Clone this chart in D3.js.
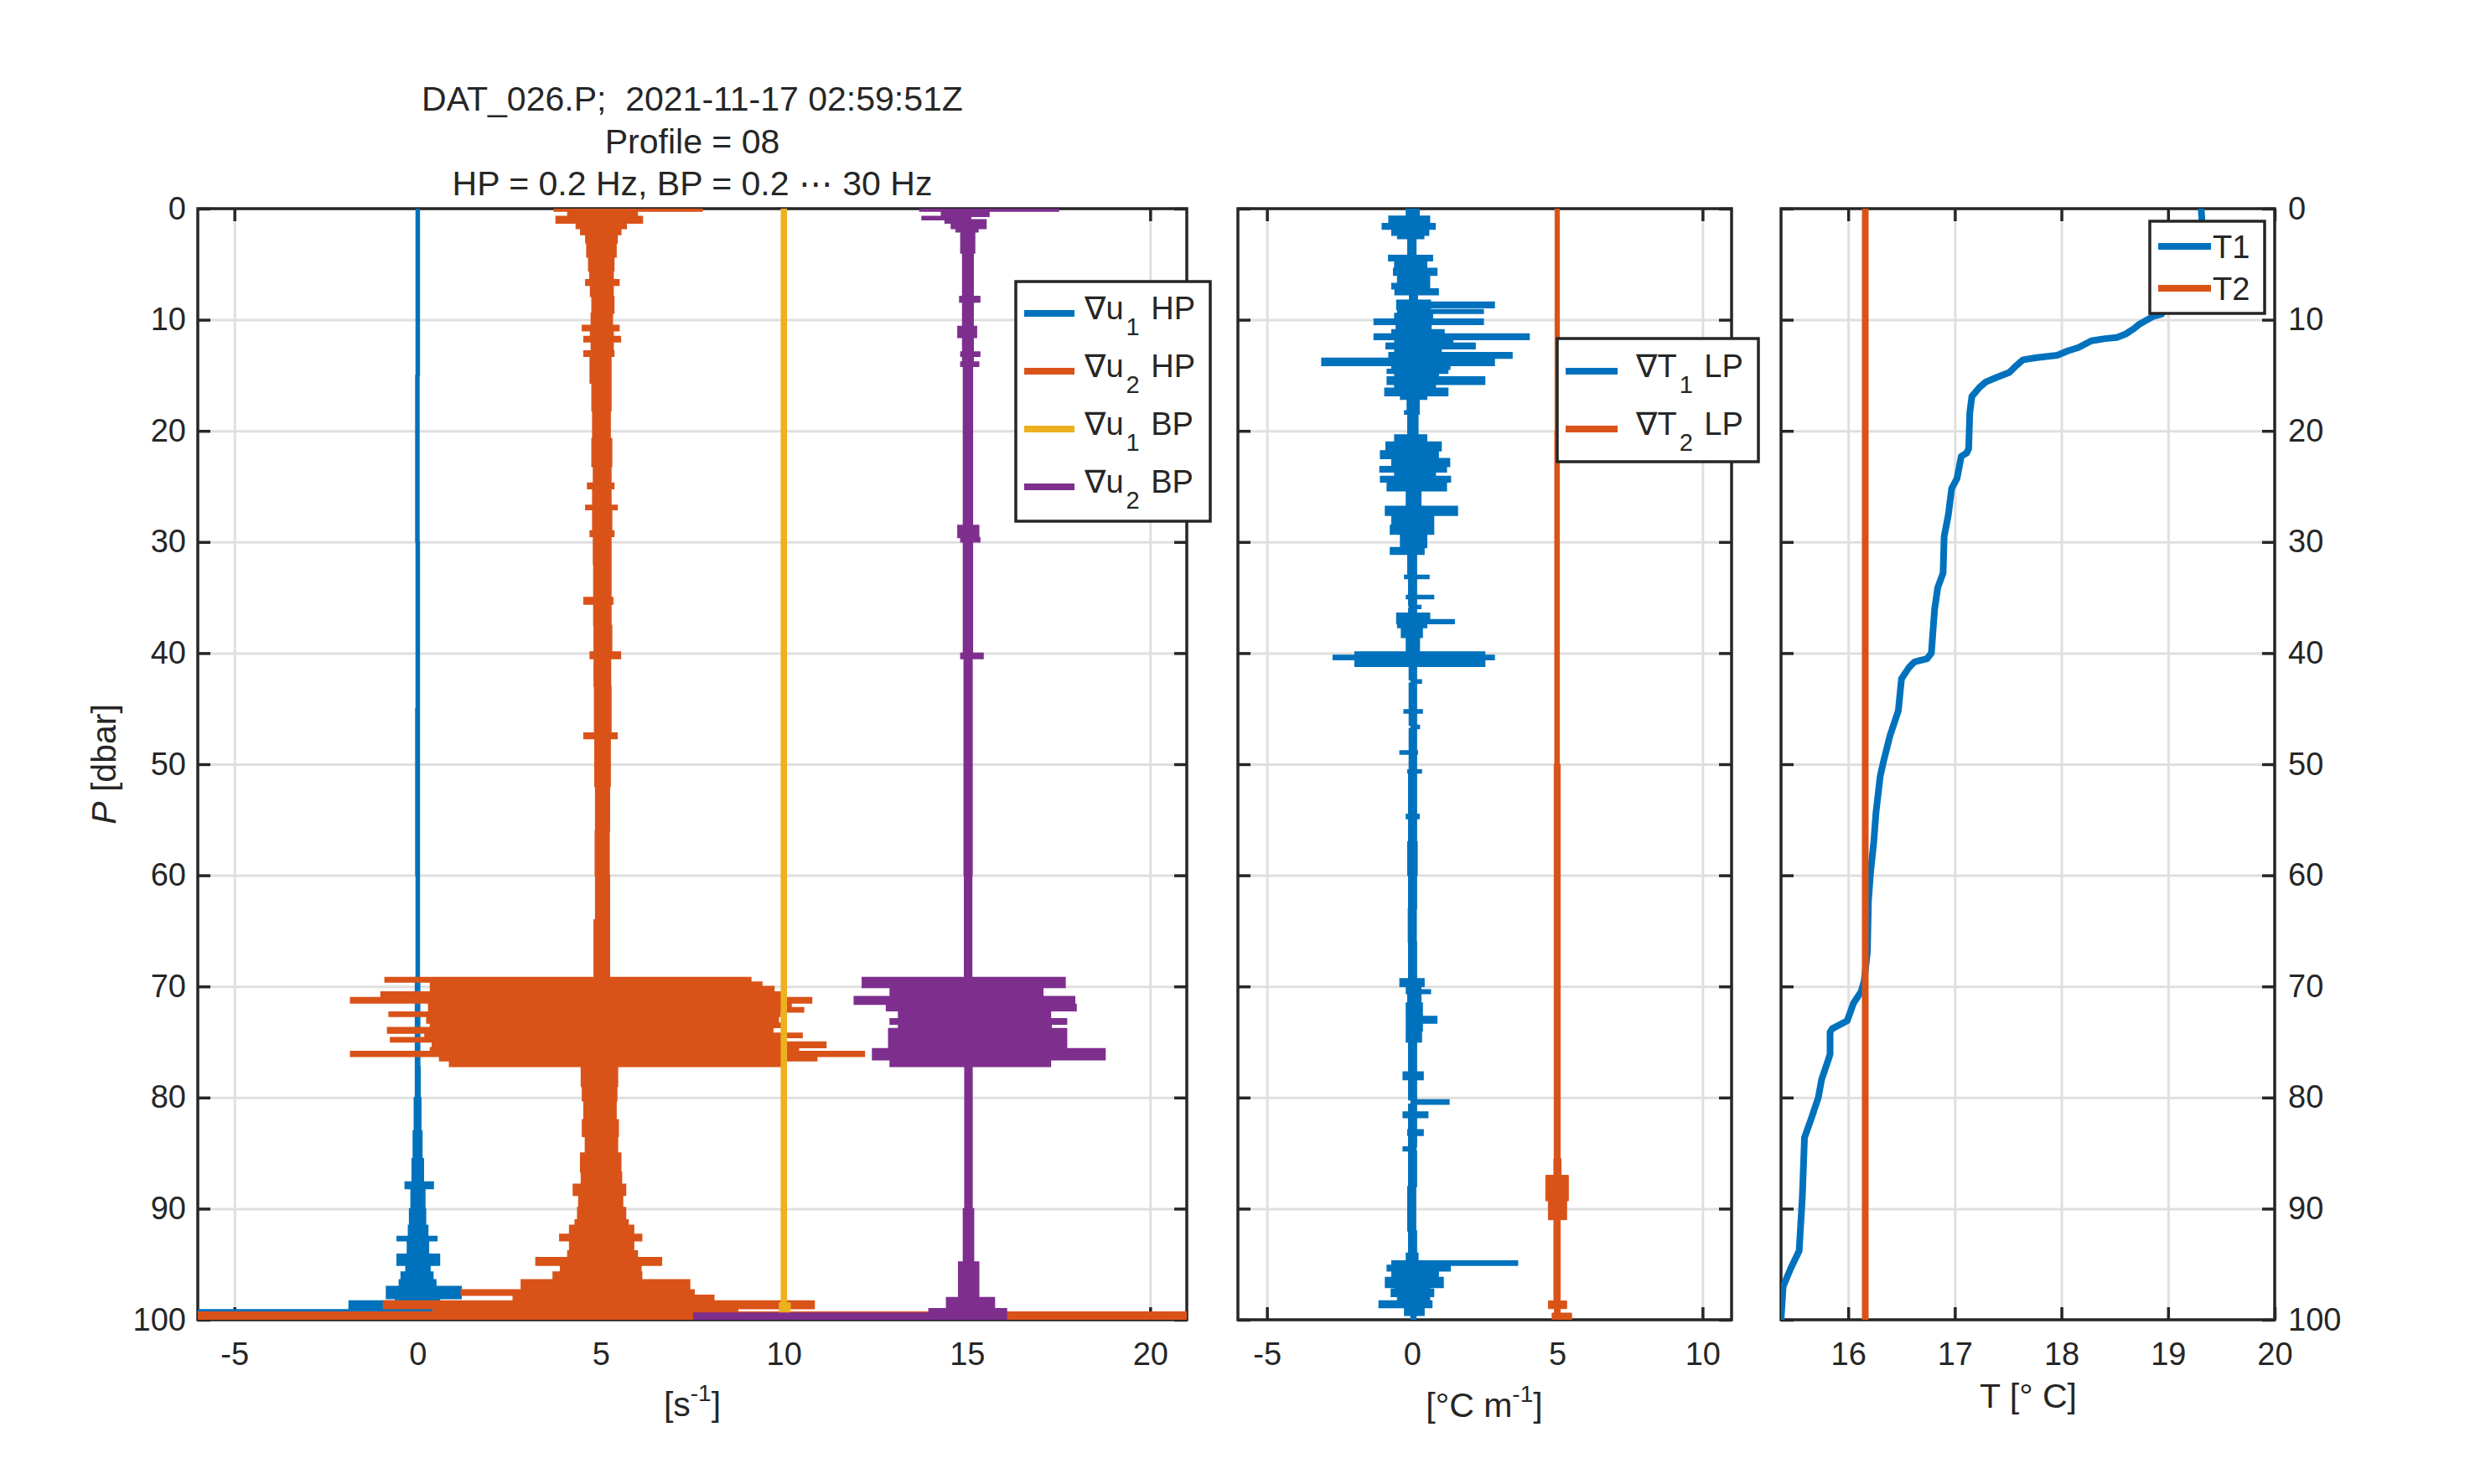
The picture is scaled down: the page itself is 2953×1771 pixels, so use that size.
<!DOCTYPE html>
<html lang="en">
<head>
<meta charset="UTF-8">
<title>DAT_026.P profile 08</title>
<script src="https://d3js.org/d3.v7.min.js"></script>
<style>
  body { margin: 0; background: #fff; }
  svg { display: block; background: #fff; }
  svg text { font-family: 'Liberation Sans', Arial, Helvetica, 'DejaVu Sans', sans-serif; fill: #262626; }
</style>
</head>
<body>
<svg id="fig" width="2953" height="1771"></svg>
<script>
// Values.
// Noisy profiles are kept as rows [P (dbar), min, max]; each row holds down to the next row.

// left panel: shear probes [s^-1] (offset by 0, 5, 10, 15)
var du1HP = [
  [0, -0.04, 0.05], [15, -0.05, 0.04], [30, -0.04, 0.05], [45, -0.05, 0.05], [60, -0.04, 0.05],
  [69.2, -0.06, 0.06], [77.2, -0.06, 0.07], [80, -0.09, 0.09], [83, -0.12, 0.12], [85.5, -0.15, 0.16],
  [87.6, -0.34, 0.43], [88.2, -0.18, 0.2], [90, -0.22, 0.22], [91.5, -0.25, 0.28], [92.5, -0.56, 0.53],
  [92.9, -0.28, 0.3], [94.1, -0.56, 0.6], [95.1, -0.32, 0.34], [95.7, -0.45, 0.42], [96.4, -0.5, 0.5],
  [97.0, -0.85, 1.19], [98.1, -0.6, 0.6], [98.3, -1.87, 0.53], [99.1, -6, 0.42], [99.3, -1.5, 0.3],
  [100, -1.5, 0.3]
];
var du2HP = [
  [0, 3.73, 7.77], [0.22, 4.1, 6.0], [0.7, 3.78, 6.14], [1.3, 4.33, 5.7], [1.8, 4.45, 5.55],
  [2.34, 4.59, 5.45], [3.1, 4.62, 5.42], [4.35, 4.67, 5.36], [5.6, 4.7, 5.34], [6.4, 4.59, 5.5],
  [6.9, 4.72, 5.34], [7.9, 4.76, 5.36], [9.4, 4.74, 5.32], [10.5, 4.5, 5.5], [11.0, 4.72, 5.34],
  [11.5, 4.54, 5.54], [12.0, 4.74, 5.34], [12.8, 4.54, 5.36], [13.3, 4.71, 5.28], [15.7, 4.76, 5.28],
  [18.2, 4.78, 5.26], [20.7, 4.76, 5.3], [23.2, 4.8, 5.28], [24.7, 4.64, 5.36], [25.2, 4.78, 5.28],
  [26.7, 4.59, 5.45], [27.1, 4.78, 5.3], [29.0, 4.71, 5.36], [29.5, 4.8, 5.28], [32, 4.81, 5.28],
  [35.0, 4.54, 5.33], [35.6, 4.81, 5.28], [37.5, 4.82, 5.3], [39.9, 4.71, 5.54], [40.5, 4.82, 5.27],
  [43, 4.83, 5.28], [47.2, 4.54, 5.45], [47.7, 4.84, 5.26], [52, 4.86, 5.24], [56, 4.85, 5.23],
  [60, 4.86, 5.24], [64, 4.82, 5.24],
  [69.2, -0.89, 9.1], [69.6, 0.35, 9.4], [70.0, 0.35, 9.73], [70.5, -1.0, 9.95], [71.0, -1.83, 10.76],
  [71.5, 0.3, 10.2], [71.9, 0.3, 10.54], [72.3, -0.78, 9.9], [72.7, 0.25, 9.85], [73.3, 0.35, 9.95],
  [73.7, -0.82, 9.7], [74.2, 0.2, 10.5], [74.6, -0.74, 10.0], [75.0, 0.4, 11.15], [75.5, 0.35, 10.4],
  [75.85, -1.83, 12.2], [76.3, 0.6, 10.9], [76.7, 0.87, 9.95],
  [77.2, 4.47, 5.46], [79, 4.5, 5.44], [80.3, 4.54, 5.42], [82, 4.5, 5.48], [83.5, 4.58, 5.46],
  [85, 4.45, 5.55], [86.7, 4.47, 5.57], [87.8, 4.25, 5.68], [88.8, 4.4, 5.6], [89.9, 4.37, 5.68],
  [91.0, 4.3, 5.75], [91.5, 4.15, 5.9], [92.3, 3.88, 6.12], [92.9, 4.15, 5.9], [93.8, 4.1, 6.0],
  [94.4, 3.23, 6.66], [95.1, 3.9, 6.1], [95.7, 3.7, 6.12], [96.4, 2.83, 7.43], [97.3, 1.19, 7.55],
  [97.8, 2.61, 8.09], [98.3, -0.93, 10.83], [99.0, 0.42, 8.74], [99.3, -6, 21], [100, -6, 21]
];
var du1BP = [
  [0, 9.93, 10.07], [98.5, 9.88, 10.17], [99.4, 9.93, 10.07], [100, 9.93, 10.07]
];
var du2BP = [
  [0, 13.71, 17.5], [0.22, 14.3, 15.6], [0.7, 13.77, 15.1], [1.0, 14.4, 15.52], [1.3, 14.57, 15.52],
  [1.8, 14.7, 15.3], [2.1, 14.83, 15.21], [4.0, 14.88, 15.17], [7.9, 14.8, 15.35], [8.4, 14.88, 15.17],
  [10.6, 14.75, 15.26], [11.6, 14.88, 15.17], [12.9, 14.83, 15.35], [13.3, 14.88, 15.17],
  [13.8, 14.83, 15.32], [14.2, 14.9, 15.15], [28.5, 14.75, 15.32], [29.6, 14.83, 15.35],
  [30.0, 14.9, 15.15], [40.0, 14.83, 15.44], [40.5, 14.92, 15.14], [60, 14.93, 15.13],
  [69.2, 12.14, 17.68], [70.1, 12.9, 17.07], [70.9, 11.92, 17.94], [71.6, 12.8, 17.98],
  [72.2, 13.13, 17.28], [72.9, 12.9, 17.72], [73.4, 13.13, 17.3], [73.8, 12.86, 17.72],
  [75.6, 12.42, 18.77], [76.6, 12.9, 17.28], [77.2, 14.94, 15.14], [90, 14.9, 15.18],
  [94.8, 14.77, 15.32], [98.0, 14.44, 15.75], [99.0, 13.96, 16.08], [99.4, 7.54, 16.08],
  [100, 7.54, 16.08]
];

// middle panel: thermistor gradients [degC m^-1] (offset by 0 and 5)
var dT1LP = [
  [0, -0.2, 0.24], [0.67, -0.8, 0.6], [1.34, -1.03, 0.79], [1.85, -0.7, 0.57], [2.4, -0.5, 0.4],
  [2.69, -0.15, 0.13], [4.2, -0.81, 0.7], [4.7, -0.6, 0.5], [5.38, -0.64, 0.85], [6.0, -0.5, 0.6],
  [6.73, -0.7, 0.6], [7.23, -0.59, 0.9], [7.74, -0.09, 0.18], [8.24, -0.53, 0.63], [8.41, -0.53, 2.83],
  [8.92, -0.53, 0.63], [9.08, -0.5, 2.45], [9.42, -0.6, 0.7], [9.93, -1.31, 2.45], [10.43, -0.55, 0.65],
  [10.9, -0.7, 1.1], [11.27, -1.31, 4.03], [11.78, -0.6, 1.4], [12.11, -0.9, 2.17], [12.62, -0.6, 1.0],
  [12.96, -0.8, 3.44], [13.46, -3.11, 2.83], [14.13, -0.7, 1.3], [14.47, -0.86, 1.23], [14.81, -0.6, 0.9],
  [15.14, -0.86, 2.5], [15.82, -0.6, 0.8], [16.16, -0.94, 1.23], [16.83, -0.4, 0.5], [17.16, -0.17, 0.24],
  [18.2, -0.26, 0.24], [18.5, -0.15, 0.2], [20.36, -0.6, 0.5], [21.0, -0.9, 1.0], [21.8, -1.09, 0.9],
  [22.5, -0.7, 1.29], [23.2, -1.11, 1.18], [23.7, -0.6, 0.8], [24.1, -1.09, 1.32], [24.6, -0.86, 1.18],
  [25.4, -0.2, 0.3], [26.8, -0.92, 1.56], [27.6, -0.7, 0.74], [28.5, -0.75, 0.74], [29.3, -0.4, 0.5],
  [30.5, -0.75, 0.41], [31.1, -0.15, 0.15], [33.0, -0.26, 0.58], [33.3, -0.12, 0.15], [34.8, -0.2, 0.74],
  [35.1, -0.12, 0.15], [35.7, -0.1, 0.3], [36.0, -0.12, 0.15], [36.4, -0.53, 0.6], [37.0, -0.53, 1.45],
  [37.35, -0.5, 0.5], [37.7, -0.37, 0.35], [38.6, -0.2, 0.25], [39.9, -1.97, 2.5], [40.2, -2.72, 2.83],
  [40.6, -1.97, 2.5], [41.2, -0.1, 0.15], [42.4, -0.04, 0.32], [42.7, -0.1, 0.15], [45.1, -0.28, 0.35],
  [45.4, -0.1, 0.15], [46.5, -0.04, 0.25], [46.8, -0.1, 0.15], [48.8, -0.42, 0.18], [49.1, -0.1, 0.15],
  [50.5, -0.15, 0.32], [50.8, -0.12, 0.15], [54.5, -0.2, 0.24], [54.9, -0.12, 0.15], [57, -0.15, 0.17],
  [60, -0.12, 0.15], [63, -0.13, 0.14], [66, -0.12, 0.15], [69.3, -0.42, 0.41], [70.0, -0.2, 0.3],
  [70.3, -0.2, 0.63], [70.65, -0.15, 0.3], [71.5, -0.2, 0.35], [72.7, -0.2, 0.85], [73.3, -0.2, 0.35],
  [74, -0.2, 0.32], [75, -0.12, 0.15], [77.7, -0.31, 0.38], [78.4, -0.12, 0.15], [80.2, -0.04, 1.27],
  [80.6, -0.12, 0.15], [81.3, -0.31, 0.54], [81.8, -0.12, 0.15], [82.9, -0.15, 0.38], [83.4, -0.12, 0.15],
  [84.45, -0.31, 0.13], [84.8, -0.12, 0.15], [88, -0.15, 0.12], [92, -0.12, 0.15], [94.0, -0.2, 0.2],
  [94.7, -0.7, 3.63], [95.1, -0.86, 1.31], [95.6, -0.7, 0.9], [96.2, -0.92, 1.07], [97.1, -0.6, 0.6],
  [97.25, -0.72, 0.74], [97.9, -0.5, 0.6], [98.3, -1.14, 0.68], [98.9, -0.26, 0.41], [99.6, -0.04, 0.13],
  [100, -0.04, 0.13]
];
var dT2LP = [
  [0, 4.92, 5.07], [20, 4.91, 5.07], [50, 4.89, 5.1], [85.5, 4.88, 5.13], [87, 4.6, 5.38],
  [89.3, 4.69, 5.32], [91, 4.88, 5.1], [98.3, 4.69, 5.32], [99, 4.9, 5.1], [99.4, 4.82, 5.49],
  [100, 4.82, 5.49]
];

// right panel: temperature [degC]
var t1P = [0, 1.3, 9.5, 9.7, 10.4, 10.8, 11.3, 11.6, 11.7, 11.9, 12.5, 12.8, 13.2, 13.4, 13.6, 14.1,
  14.75, 15.2, 15.6, 16.1, 16.9, 18.4, 21.6, 22.0, 22.3, 24.3, 25.2, 27.5, 29.5, 32.8, 34.1, 36.1,
  40.0, 40.5, 40.8, 41.3, 42.3, 45.2, 47.5, 49.8, 51.1, 54.4, 57.0, 59.7, 62.3, 66.9, 69.5, 70.5,
  71.5, 73.1, 73.8, 74.1, 76.1, 76.7, 78.4, 80.0, 82.0, 83.6, 88.9, 93.8, 95.4, 97.0, 100];
var t1T = [19.31, 19.32, 18.94, 18.86, 18.73, 18.68, 18.6, 18.52, 18.41, 18.28, 18.16, 18.06, 17.96,
  17.77, 17.64, 17.58, 17.51, 17.39, 17.29, 17.23, 17.16, 17.14, 17.13, 17.11, 17.06, 17.02, 16.97,
  16.94, 16.9, 16.89, 16.84, 16.81, 16.78, 16.74, 16.62, 16.57, 16.5, 16.47, 16.39, 16.33, 16.3,
  16.26, 16.24, 16.21, 16.19, 16.18, 16.15, 16.12, 16.05, 15.99, 15.85, 15.83, 15.83, 15.81, 15.75,
  15.72, 15.65, 15.59, 15.57, 15.54, 15.46, 15.39, 15.37];
var t2P = [0, 100];
var t2T = [16.16, 16.16];

// ticks
var pTicks = [0, 10, 20, 30, 40, 50, 60, 70, 80, 90, 100];
var shearTicks = [-5, 0, 5, 10, 15, 20];
var gradTicks = [-5, 0, 5, 10];
var tempTicks = [16, 17, 18, 19, 20];

var titleLines = ["DAT_026.P;  2021-11-17 02:59:51Z", "Profile = 08", "HP = 0.2 Hz, BP = 0.2 \u22EF 30 Hz"];

var C = { blue: "#0072BD", orange: "#D95319", yellow: "#EDB120", purple: "#7E2F8E" };
var ink = "#262626";

var svg = d3.select("#fig");
var yTop = 249, yHeight = 1326;
var y = d3.scaleLinear().domain([0, 100]).range([yTop, yTop + yHeight]);

function panel(id, x0, width, xDomain, xTicks, yLabels) {
  var x = d3.scaleLinear().domain(xDomain).range([x0, x0 + width]);
  var g = svg.append("g");
  svg.append("clipPath").attr("id", "clip-" + id).append("rect")
    .attr("x", x0).attr("y", yTop).attr("width", width).attr("height", yHeight);

  // grid
  g.append("g").attr("transform", "translate(0," + (yTop + yHeight) + ")")
    .call(d3.axisBottom(x).tickValues(xTicks).tickSize(-yHeight).tickFormat(""))
    .call(s => s.select(".domain").remove())
    .selectAll("line").attr("stroke", "#dfdfdf").attr("stroke-width", 3);
  g.append("g").attr("transform", "translate(" + x0 + ",0)")
    .call(d3.axisLeft(y).tickValues(pTicks).tickSize(-width).tickFormat(""))
    .call(s => s.select(".domain").remove())
    .selectAll("line").attr("stroke", "#dfdfdf").attr("stroke-width", 3);

  // box
  g.append("rect").attr("x", x0).attr("y", yTop).attr("width", width).attr("height", yHeight)
    .attr("fill", "none").attr("stroke", ink).attr("stroke-width", 3.5);

  var fmt = d => String(d);
  var axes = [
    [d3.axisBottom(x).tickValues(xTicks).tickFormat(fmt).tickPadding(27), "translate(0," + (yTop + yHeight) + ")"],
    [d3.axisTop(x).tickValues(xTicks).tickFormat(""), "translate(0," + yTop + ")"],
    [d3.axisLeft(y).tickValues(pTicks).tickFormat(yLabels === "left" ? fmt : "").tickPadding(14), "translate(" + x0 + ",0)"],
    [d3.axisRight(y).tickValues(pTicks).tickFormat(yLabels === "right" ? fmt : "").tickPadding(16), "translate(" + (x0 + width) + ",0)"]
  ];
  axes.forEach(function (a) {
    var ag = g.append("g").attr("transform", a[1])
      .call(a[0].tickSize(-15))
      .attr("font-size", 38).attr("font-family", null);
    ag.select(".domain").remove();
    ag.selectAll("line").attr("stroke", ink).attr("stroke-width", 3.5);
  });

  var data = svg.append("g").attr("clip-path", "url(#clip-" + id + ")");
  return { x: x, g: g, data: data, x0: x0, width: width };
}

function band(p, rows, color, sw) {
  var area = d3.area().curve(d3.curveStepBefore)
    .y(d => y(d[0])).x0(d => p.x(d[1])).x1(d => p.x(d[2]));
  p.data.append("path").datum(rows).attr("d", area)
    .attr("fill", color).attr("stroke", color).attr("stroke-width", sw)
    .attr("stroke-linejoin", "miter");
}

function profile(p, ps, vs, color, sw) {
  var line = d3.line().x(i => p.x(vs[i])).y(i => y(ps[i]));
  p.data.append("path").datum(d3.range(ps.length)).attr("d", line)
    .attr("fill", "none").attr("stroke", color).attr("stroke-width", sw)
    .attr("stroke-linejoin", "round");
}

function legend(box, entries, o) {
  var lg = svg.append("g");
  lg.append("rect").attr("x", box[0]).attr("y", box[1]).attr("width", box[2]).attr("height", box[3])
    .attr("fill", "#fff").attr("stroke", ink).attr("stroke-width", 3.5);
  entries.forEach(function (e, i) {
    var cy = o.y0 + i * o.dy;
    lg.append("line").attr("x1", o.l0).attr("x2", o.l1).attr("y1", cy).attr("y2", cy)
      .attr("stroke", e.c).attr("stroke-width", 8);
    var t = lg.append("text").attr("x", o.tx).attr("y", cy + o.base).attr("font-size", 38)
      .style("white-space", "pre");
    t.append("tspan").text(e.a);
    if (e.sub) {
      t.append("tspan").attr("font-size", 29).attr("dx", 3).attr("dy", 19).text(e.sub);
      t.append("tspan").attr("dx", 3).attr("dy", -19).text(e.b);
    }
  });
}

// ---- panels
var pLeft = panel("L", 236, 1180, [-6, 21], shearTicks, "left");
var pMid = panel("M", 1477, 589, [-6, 11], gradTicks, "none");
var pRight = panel("R", 2125, 589, [15.37, 20], tempTicks, "right");

band(pLeft, du1HP, C.blue, 1.5);
band(pLeft, du2HP, C.orange, 1.5);
band(pLeft, du1BP, C.yellow, 1.5);
band(pLeft, du2BP, C.purple, 1.5);

band(pMid, dT1LP, C.blue, 1.5);
band(pMid, dT2LP, C.orange, 1);

profile(pRight, t1P, t1T, C.blue, 8);
profile(pRight, t2P, t2T, C.orange, 8);

// ---- titles and labels
var title = svg.append("text").attr("text-anchor", "middle").attr("font-size", 41)
  .style("white-space", "pre");
titleLines.forEach(function (s, i) {
  title.append("tspan").attr("x", 826).attr("y", 132 + i * 50.5).text(s);
});

var yl = svg.append("text").attr("font-size", 41).attr("text-anchor", "middle")
  .attr("transform", "translate(138,912) rotate(-90)");
yl.append("tspan").attr("font-style", "italic").text("P");
yl.append("tspan").text(" [dbar]");

function xLabel(cx, by, a, sup, b) {
  var t = svg.append("text").attr("x", cx).attr("y", by).attr("font-size", 41)
    .attr("text-anchor", "middle").style("white-space", "pre");
  t.append("tspan").text(a);
  if (sup) {
    t.append("tspan").attr("font-size", 28).attr("dy", -18).text(sup);
    t.append("tspan").attr("dy", 18).text(b);
  }
}
xLabel(826, 1690, "[s", "-1", "]");
xLabel(1771, 1691, "[\u00B0C m", "-1", "]");
xLabel(2420, 1680, "T [\u00B0 C]");

// ---- legends
legend([1212, 336, 232, 286], [
  { c: C.blue, a: "\u2207u", sub: "1", b: " HP" },
  { c: C.orange, a: "\u2207u", sub: "2", b: " HP" },
  { c: C.yellow, a: "\u2207u", sub: "1", b: " BP" },
  { c: C.purple, a: "\u2207u", sub: "2", b: " BP" }
], { y0: 374, dy: 69, l0: 1222, l1: 1282, tx: 1294, base: 7 });

legend([1858, 404, 240, 147], [
  { c: C.blue, a: "\u2207T", sub: "1", b: " LP" },
  { c: C.orange, a: "\u2207T", sub: "2", b: " LP" }
], { y0: 443, dy: 69, l0: 1868, l1: 1930, tx: 1952, base: 7 });

legend([2565, 264, 137, 110], [
  { c: C.blue, a: "T1" },
  { c: C.orange, a: "T2" }
], { y0: 294, dy: 50, l0: 2575, l1: 2638, tx: 2640, base: 14 });
</script>
</body>
</html>
